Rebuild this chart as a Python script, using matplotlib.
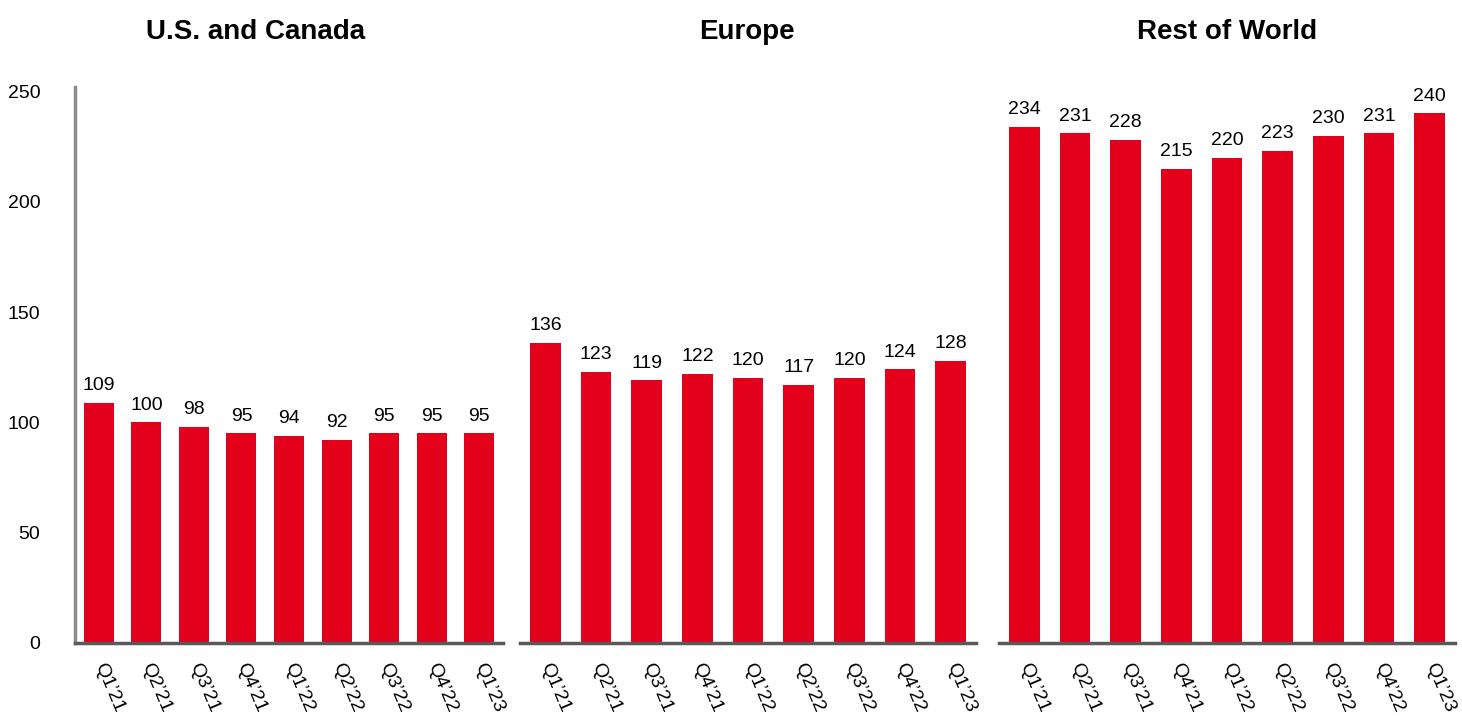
import matplotlib.pyplot as plt

quarters = ["Q1’21", "Q2’21", "Q3’21", "Q4’21", "Q1’22", "Q2’22", "Q3’22", "Q4’22", "Q1’23"]
titles = ["U.S. and Canada", "Europe", "Rest of World"]
us_canada = [109, 100, 98, 95, 94, 92, 95, 95, 95]
europe = [136, 123, 119, 122, 120, 117, 120, 124, 128]
rest_of_world = [234, 231, 228, 215, 220, 223, 230, 231, 240]
y_ticks = [0, 50, 100, 150, 200, 250]

plt.rcParams['font.family'] = ['Liberation Sans', 'DejaVu Sans']
red = '#E3001B'

fig = plt.figure(figsize=(14.62, 7.21), dpi=100)
boxes = [
    [75 / 1462, 0.1082, 428 / 1462, 0.7711],
    [520 / 1462, 0.1082, 456 / 1462, 0.7711],
    [999 / 1462, 0.1082, 456 / 1462, 0.7711],
]
widths = [0.63, 0.6, 0.6]
title_x = [256, 747, 1227]

for i, values in enumerate([us_canada, europe, rest_of_world]):
    ax = fig.add_axes(boxes[i])
    x = range(len(quarters))
    ax.bar(x, values, width=widths[i], color=red, zorder=2)
    for xi, v in zip(x, values):
        ax.text(xi, v + 4, str(v), ha='center', va='bottom', fontsize=14)
    ax.set_xlim(-0.5, len(quarters) - 0.5)
    ax.set_ylim(0, 252)
    ax.set_xticks(list(x))
    ax.set_xticklabels(quarters, rotation=-67, ha='left', va='center',
                       rotation_mode='anchor', fontsize=14)
    ax.tick_params(axis='x', length=0, pad=15)
    for s in ['top', 'right']:
        ax.spines[s].set_visible(False)
    ax.spines['bottom'].set_color('#595959')
    ax.spines['bottom'].set_linewidth(2.5)
    ax.spines['bottom'].set_zorder(3)
    if i == 0:
        ax.spines['left'].set_color('#8c8c8c')
        ax.spines['left'].set_linewidth(2.5)
        ax.set_yticks(y_ticks)
        ax.tick_params(axis='y', length=0, pad=25, labelsize=14)
    else:
        ax.spines['left'].set_visible(False)
        ax.set_yticks([])
    fig.text(title_x[i] / 1462, 1 - 32 / 721, titles[i], ha='center', va='center',
             fontsize=20, fontweight='bold')

fig.savefig('out.png', dpi=100)
